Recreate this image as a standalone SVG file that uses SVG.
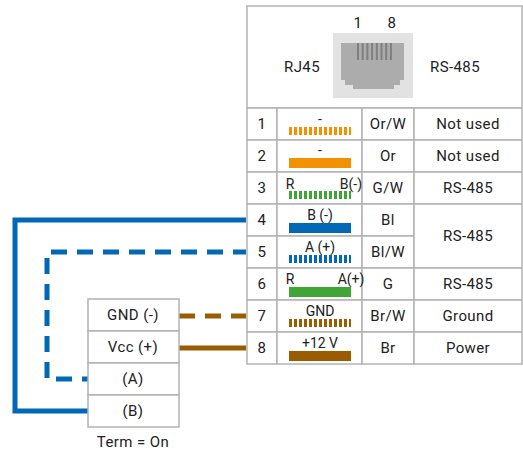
<svg xmlns="http://www.w3.org/2000/svg" width="523" height="452" viewBox="0 0 523 452">
<style>
  .cell{fill:#fff;stroke:#b3b3b3;stroke-width:1.5}
  .t{font-family:Roboto,"Liberation Sans",sans-serif;font-size:15px;fill:#222;letter-spacing:0.4px;text-anchor:middle}
  .s{font-family:Roboto,"Liberation Sans",sans-serif;font-size:14px;fill:#222;text-anchor:middle}
  .wire{fill:none;stroke-width:5}
  .blue{stroke:#0068b4}
  .brown{stroke:#9a5c00}
  .dash{stroke-dasharray:16 10}
  .stripe{fill:none;stroke-width:8;stroke-dasharray:3 2}
</style>
<rect width="523" height="452" fill="#fff"/>

<g id="connectors">
  <path class="wire blue" d="M246 220 H15 V411 H88"/>
  <path class="wire blue dash" d="M88 379 H47 V252 H246" stroke-dashoffset="10"/>
  <path class="wire brown dash" d="M179 316 H246"/>
  <path class="wire brown" d="M179 348 H246"/>
</g>

<g id="table-header">
  <rect class="cell" x="247" y="6" width="275" height="102"/>
  <rect x="333" y="33" width="80" height="65" fill="#e2e2e2"/>
  <path d="M341 43 H404 V80 H400 V85 H394 V89 H353 V85 H345 V80 H341 Z" fill="#acacac"/>
  <line x1="357" y1="51.5" x2="394" y2="51.5" stroke="#7f7f7f" stroke-width="17" stroke-dasharray="2 2.7"/>
  <text class="t" x="358" y="28">1</text>
  <text class="t" x="392" y="28">8</text>
  <text class="t" x="302" y="72">RJ45</text>
  <text class="t" x="455" y="72">RS-485</text>
</g>

<g id="row1">
  <rect class="cell" x="247" y="108" width="30" height="32"/>
  <rect class="cell" x="277" y="108" width="85" height="32"/>
  <rect class="cell" x="362" y="108" width="52" height="32"/>
  <rect class="cell" x="414" y="108" width="108" height="32"/>
  <text class="t" x="262" y="129">1</text>
  <text class="s" x="320" y="124">-</text>
  <line class="stripe" x1="289" y1="131" x2="351" y2="131" stroke="#f39200"/>
  <text class="t" x="388" y="129">Or/W</text>
  <text class="t" x="468" y="129">Not used</text>
</g>
<g id="row2">
  <rect class="cell" x="247" y="140" width="30" height="32"/>
  <rect class="cell" x="277" y="140" width="85" height="32"/>
  <rect class="cell" x="362" y="140" width="52" height="32"/>
  <rect class="cell" x="414" y="140" width="108" height="32"/>
  <text class="t" x="262" y="161">2</text>
  <text class="s" x="320" y="155">-</text>
  <rect x="289" y="158" width="62" height="10" fill="#f39200"/>
  <text class="t" x="388" y="161">Or</text>
  <text class="t" x="468" y="161">Not used</text>
</g>
<g id="row3">
  <rect class="cell" x="247" y="172" width="30" height="32"/>
  <rect class="cell" x="277" y="172" width="85" height="32"/>
  <rect class="cell" x="362" y="172" width="52" height="32"/>
  <rect class="cell" x="414" y="172" width="108" height="32"/>
  <text class="t" x="262" y="193">3</text>
  <text class="s" x="290" y="189" text-anchor="start">R</text>
  <text class="s" x="351" y="189" text-anchor="end">B(-)</text>
  <line class="stripe" x1="289" y1="195" x2="351" y2="195" stroke="#3fa535"/>
  <text class="t" x="388" y="193">G/W</text>
  <text class="t" x="468" y="193">RS-485</text>
</g>
<g id="row4">
  <rect class="cell" x="247" y="204" width="30" height="32"/>
  <rect class="cell" x="277" y="204" width="85" height="32"/>
  <rect class="cell" x="362" y="204" width="52" height="32"/>
  <text class="t" x="262" y="225">4</text>
  <text class="s" x="320" y="220">B (-)</text>
  <rect x="289" y="223" width="62" height="10" fill="#0068b4"/>
  <text class="t" x="388" y="225">Bl</text>
</g>
<g id="row5">
  <rect class="cell" x="247" y="236" width="30" height="32"/>
  <rect class="cell" x="277" y="236" width="85" height="32"/>
  <rect class="cell" x="362" y="236" width="52" height="32"/>
  <text class="t" x="262" y="257">5</text>
  <text class="s" x="320" y="252">A (+)</text>
  <line class="stripe" x1="289" y1="259" x2="351" y2="259" stroke="#0068b4"/>
  <text class="t" x="388" y="257">Bl/W</text>
</g>
<g id="row45-merged">
  <rect class="cell" x="414" y="204" width="108" height="64"/>
  <text class="t" x="468" y="241">RS-485</text>
</g>
<g id="row6">
  <rect class="cell" x="247" y="268" width="30" height="32"/>
  <rect class="cell" x="277" y="268" width="85" height="32"/>
  <rect class="cell" x="362" y="268" width="52" height="32"/>
  <rect class="cell" x="414" y="268" width="108" height="32"/>
  <text class="t" x="262" y="289">6</text>
  <text class="s" x="290" y="284" text-anchor="start">R</text>
  <text class="s" x="351" y="284" text-anchor="end">A(+)</text>
  <rect x="289" y="287" width="62" height="10" fill="#3fa535"/>
  <text class="t" x="388" y="289">G</text>
  <text class="t" x="468" y="289">RS-485</text>
</g>
<g id="row7">
  <rect class="cell" x="247" y="300" width="30" height="32"/>
  <rect class="cell" x="277" y="300" width="85" height="32"/>
  <rect class="cell" x="362" y="300" width="52" height="32"/>
  <rect class="cell" x="414" y="300" width="108" height="32"/>
  <text class="t" x="262" y="321">7</text>
  <text class="s" x="320" y="316">GND</text>
  <line class="stripe" x1="289" y1="323" x2="351" y2="323" stroke="#9a5c00"/>
  <text class="t" x="388" y="321">Br/W</text>
  <text class="t" x="468" y="321">Ground</text>
</g>
<g id="row8">
  <rect class="cell" x="247" y="332" width="30" height="32"/>
  <rect class="cell" x="277" y="332" width="85" height="32"/>
  <rect class="cell" x="362" y="332" width="52" height="32"/>
  <rect class="cell" x="414" y="332" width="108" height="32"/>
  <text class="t" x="262" y="353">8</text>
  <text class="s" x="320" y="348">+12 V</text>
  <rect x="289" y="351" width="62" height="10" fill="#9a5c00"/>
  <text class="t" x="388" y="353">Br</text>
  <text class="t" x="468" y="353">Power</text>
</g>

<g id="device">
  <rect class="cell" x="88" y="299" width="91" height="32"/>
  <rect class="cell" x="88" y="331" width="91" height="32"/>
  <rect class="cell" x="88" y="363" width="91" height="32"/>
  <rect class="cell" x="88" y="395" width="91" height="32"/>
  <text class="t" x="133" y="320">GND (-)</text>
  <text class="t" x="133" y="352">Vcc (+)</text>
  <text class="t" x="133" y="384">(A)</text>
  <text class="t" x="133" y="416">(B)</text>
  <text class="t" x="133" y="447">Term = On</text>
</g>
</svg>
